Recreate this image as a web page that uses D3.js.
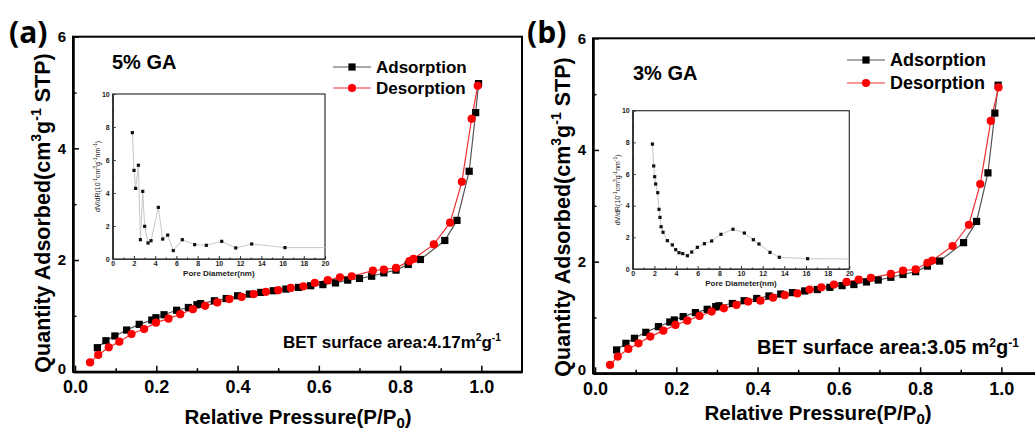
<!DOCTYPE html>
<html>
<head>
<meta charset="utf-8">
<script src="https://cdn.jsdelivr.net/npm/d3@7"></script>
<style>
  body { margin: 0; background: #fff; }
  svg { font-family: "Liberation Sans", Arial, sans-serif; font-weight: bold; }
</style>
</head>
<body>
<svg id="chart" width="1035" height="432"></svg>
<script>
// ---- panel (a) 5% GA ----
const adsA_x = [0.055,0.076,0.098,0.127,0.158,0.189,0.199,0.219,0.25,0.279,0.30,0.309,0.343,0.372,0.40,0.429,0.457,0.488,0.519,0.55,0.58,0.61,0.641,0.671,0.70,0.73,0.76,0.79,0.82,0.85,0.91,0.94,0.97,0.986,0.993];
const adsA_y = [0.43,0.555,0.64,0.746,0.848,0.925,0.967,1.02,1.10,1.15,1.20,1.22,1.27,1.31,1.36,1.39,1.42,1.45,1.48,1.51,1.54,1.56,1.59,1.64,1.67,1.71,1.77,1.82,1.92,2.01,2.35,2.71,3.59,4.64,5.16];
const desA_x = [0.037,0.057,0.083,0.109,0.139,0.17,0.199,0.23,0.259,0.29,0.32,0.35,0.38,0.41,0.44,0.47,0.50,0.531,0.562,0.59,0.622,0.652,0.681,0.733,0.76,0.79,0.823,0.833,0.883,0.923,0.952,0.976,0.991];
const desA_y = [0.167,0.30,0.436,0.537,0.675,0.764,0.878,0.95,1.03,1.12,1.18,1.24,1.30,1.34,1.39,1.43,1.46,1.50,1.53,1.59,1.64,1.69,1.71,1.81,1.83,1.86,1.98,2.02,2.28,2.67,3.40,4.53,5.12];
const poreA_d = [1.85,2.01,2.16,2.42,2.61,2.83,3.01,3.33,3.61,4.30,4.71,5.18,5.71,6.56,7.72,8.82,10.27,11.59,13.09,16.23];
const poreA_v = [7.66,5.37,4.28,5.68,1.17,4.10,1.98,0.97,1.11,3.13,1.21,1.45,0.51,1.17,0.87,0.83,1.07,0.67,0.91,0.69];
const poreA_tail = [20, 0.69];

// ---- panel (b) 3% GA ----
const adsB_x = [0.053,0.076,0.097,0.125,0.156,0.184,0.195,0.217,0.247,0.276,0.297,0.305,0.338,0.367,0.398,0.428,0.457,0.486,0.516,0.547,0.578,0.608,0.637,0.668,0.697,0.728,0.758,0.789,0.818,0.848,0.907,0.939,0.967,0.984,0.992];
const adsB_y = [0.418,0.537,0.627,0.734,0.836,0.919,0.955,1.015,1.087,1.146,1.194,1.21,1.25,1.30,1.34,1.385,1.42,1.445,1.475,1.50,1.54,1.57,1.59,1.636,1.67,1.72,1.77,1.82,1.92,2.01,2.34,2.72,3.59,4.66,5.16];
const desB_x = [0.037,0.056,0.082,0.107,0.136,0.168,0.198,0.227,0.257,0.287,0.317,0.348,0.377,0.407,0.438,0.467,0.498,0.528,0.557,0.588,0.619,0.649,0.679,0.728,0.758,0.789,0.818,0.830,0.88,0.92,0.948,0.974,0.993];
const desB_y = [0.15,0.30,0.436,0.537,0.657,0.764,0.866,0.943,1.027,1.105,1.164,1.224,1.284,1.30,1.355,1.40,1.43,1.50,1.54,1.59,1.636,1.68,1.71,1.78,1.84,1.86,1.98,2.02,2.28,2.66,3.39,4.52,5.12];
const poreB_d = [1.82,1.94,2.03,2.12,2.31,2.43,2.52,2.62,2.80,3.20,3.66,3.97,4.28,4.62,5.05,5.45,5.97,6.62,7.29,8.15,9.26,10.31,11.14,11.66,12.68,13.54,16.15];
const poreB_v = [7.89,6.51,5.83,5.37,4.82,3.77,3.26,2.67,2.32,1.79,1.52,1.22,1.03,0.97,0.84,1.07,1.37,1.60,1.77,2.19,2.51,2.27,1.85,1.58,1.05,0.74,0.65];
const poreB_tail = [20, 0.63];

const xMajor = [0, 0.2, 0.4, 0.6, 0.8, 1.0];
const xMinor = [0.1, 0.3, 0.5, 0.7, 0.9];
const yMajor = [0, 2, 4, 6];
const yMinor = [1, 3, 5];
const inXTicks = [0, 2, 4, 6, 8, 10, 12, 14, 16, 18, 20];
const inYTicks = [0, 2, 4, 6, 8, 10];

const svg = d3.select('#chart');

function zip(xs, ys) { return xs.map((x, i) => [x, ys[i]]); }

function drawPanel(p) {
    const g = svg.append('g');
    const x = d3.scaleLinear().domain([-0.005, 1.1]).range(p.xr);
    const y = d3.scaleLinear().domain([0, 6]).range(p.yr);
    const y0 = p.yr[0], y1 = p.yr[1], x0 = p.xr[0], x1 = p.xr[1];

    // frame
    g.append('rect')
        .attr('x', x0).attr('y', y1)
        .attr('width', x1 - x0).attr('height', y0 - y1)
        .attr('fill', 'none').attr('stroke', '#000').attr('stroke-width', 2);

    // axes, ticks pointing inward
    const xa = g.append('g').attr('transform', `translate(0,${y0})`)
        .call(d3.axisBottom(x).tickValues(xMajor).tickFormat(d3.format('.1f'))
            .tickSizeInner(-6).tickSizeOuter(0).tickPadding(9));
    xa.selectAll('text').attr('font-size', 18).attr('font-family', null).attr('fill', '#000');
    g.append('g').attr('transform', `translate(0,${y0})`)
        .call(d3.axisBottom(x).tickValues(xMinor).tickFormat('').tickSizeInner(-3.5).tickSizeOuter(0));

    const ya = g.append('g').attr('transform', `translate(${x0},0)`)
        .call(d3.axisLeft(y).tickValues(yMajor).tickFormat(d3.format('d'))
            .tickSizeInner(-6).tickSizeOuter(0).tickPadding(7));
    ya.selectAll('text').attr('font-size', 15).attr('font-family', null).attr('fill', '#000');
    ya.selectAll('.tick').filter(d => d === 0).select('text').attr('dy', '0.1em');
    g.append('g').attr('transform', `translate(${x0},0)`)
        .call(d3.axisLeft(y).tickValues(yMinor).tickFormat('').tickSizeInner(-3.5).tickSizeOuter(0));
    g.selectAll('.domain').attr('stroke-width', 2);
    g.selectAll('.tick line').attr('stroke-width', 1.5);

    // panel letter
    g.append('text').attr('x', p.letter[0]).attr('y', p.letter[1])
        .attr('font-size', 30).attr('font-family', '"Open Sans", sans-serif').attr('font-weight', 'bold')
        .text(p.name);

    // axis titles
    const xt = g.append('text').attr('x', p.xTitle[0]).attr('y', p.xTitle[1])
        .attr('text-anchor', 'middle').attr('font-size', 20.5);
    xt.append('tspan').text('Relative Pressure(P/P');
    xt.append('tspan').attr('font-size', 15).attr('dy', 4).text('0');
    xt.append('tspan').attr('dy', -4).text(')');

    const yt = g.append('text')
        .attr('transform', `translate(${p.yTitle[0]},${p.yTitle[1]}) rotate(-90)`)
        .attr('text-anchor', 'middle').attr('font-size', 21.5);
    yt.append('tspan').text('Quantity Adsorbed(cm');
    yt.append('tspan').attr('font-size', 14).attr('dy', -9).text('3');
    yt.append('tspan').attr('dy', 9).text('g');
    yt.append('tspan').attr('font-size', 14).attr('dy', -9).text('-1');
    yt.append('tspan').attr('dy', 9).text(' STP)');

    // sample label
    g.append('text').attr('x', p.sample[0]).attr('y', p.sample[1])
        .attr('font-size', 20).text(p.sampleText);

    // BET text
    const bt = g.append('text').attr('x', p.bet[0]).attr('y', p.bet[1])
        .attr('font-size', p.betSize);
    bt.append('tspan').text(p.betText);
    bt.append('tspan').attr('font-size', p.betSize * 0.6).attr('dy', -7).text('2');
    bt.append('tspan').attr('dy', 7).text('g');
    bt.append('tspan').attr('font-size', p.betSize * 0.6).attr('dy', -7).text('-1');

    // inset: pore size distribution
    const ix = d3.scaleLinear().domain([0, 20]).range(p.inX);
    const iy = d3.scaleLinear().domain([0, 10]).range(p.inY);
    const ig = g.append('g');
    ig.append('rect').attr('x', p.inX[0]).attr('y', p.inY[1])
        .attr('width', p.inX[1] - p.inX[0]).attr('height', p.inY[0] - p.inY[1])
        .attr('fill', '#fff').attr('stroke', '#333').attr('stroke-width', 1.2);
    ig.append('g').attr('transform', `translate(0,${p.inY[0]})`)
        .call(d3.axisBottom(ix).tickValues(inXTicks).tickSizeInner(-3).tickSizeOuter(0).tickPadding(2));
    ig.append('g').attr('transform', `translate(${p.inX[0]},0)`)
        .call(d3.axisLeft(iy).tickValues(inYTicks).tickSizeInner(-3).tickSizeOuter(0).tickPadding(3));
    ig.append('g').attr('transform', `translate(0,${p.inY[0]})`)
        .call(d3.axisBottom(ix).tickValues(d3.range(1, 20, 2)).tickFormat('').tickSizeInner(-1.5).tickSizeOuter(0));
    ig.append('g').attr('transform', `translate(${p.inX[0]},0)`)
        .call(d3.axisLeft(iy).tickValues(d3.range(1, 10, 2)).tickFormat('').tickSizeInner(-1.5).tickSizeOuter(0));
    ig.selectAll('text').attr('font-size', 7).attr('font-family', null).attr('fill', '#222');
    ig.selectAll('.domain').attr('stroke', '#333').attr('stroke-width', 1.2);
    ig.selectAll('.tick line').attr('stroke', '#333');

    ig.append('text').attr('x', (p.inX[0] + p.inX[1]) / 2).attr('y', p.inY[0] + 17)
        .attr('text-anchor', 'middle').attr('font-size', 8).attr('fill', '#222').text('Pore Diameter(nm)');
    const iyt = ig.append('text')
        .attr('transform', `translate(${p.inX[0] - 13},${(p.inY[0] + p.inY[1]) / 2}) rotate(-90)`)
        .attr('text-anchor', 'middle').attr('font-size', 7).attr('font-weight', 'normal').attr('fill', '#222');
    iyt.append('tspan').text('dV/dR(10');
    iyt.append('tspan').attr('font-size', 5).attr('dy', -3).text('-1');
    iyt.append('tspan').attr('dy', 3).text('cm');
    iyt.append('tspan').attr('font-size', 5).attr('dy', -3).text('3');
    iyt.append('tspan').attr('dy', 3).text('g');
    iyt.append('tspan').attr('font-size', 5).attr('dy', -3).text('-1');
    iyt.append('tspan').attr('dy', 3).text('nm');
    iyt.append('tspan').attr('font-size', 5).attr('dy', -3).text('-1');
    iyt.append('tspan').attr('dy', 3).text(')');

    const pore = zip(p.poreD, p.poreV);
    const il = d3.line().x(d => ix(d[0])).y(d => iy(d[1]));
    ig.append('path').datum(pore.concat([p.poreTail]))
        .attr('d', il).attr('fill', 'none').attr('stroke', '#c8c8c8').attr('stroke-width', 1);
    ig.selectAll('.pm').data(pore).enter().append('rect')
        .attr('x', d => ix(d[0]) - 1.6).attr('y', d => iy(d[1]) - 1.6)
        .attr('width', 3.2).attr('height', 3.2).attr('fill', '#111');

    // isotherms
    const line = d3.line().x(d => x(d[0])).y(d => y(d[1]));
    const ads = zip(p.adsX, p.adsY);
    const des = zip(p.desX, p.desY);
    g.append('path').datum(ads).attr('d', line)
        .attr('fill', 'none').attr('stroke', '#555').attr('stroke-width', 1.2);
    g.append('path').datum(des).attr('d', line)
        .attr('fill', 'none').attr('stroke', '#f03030').attr('stroke-width', 1.2);
    g.selectAll('.sq').data(ads).enter().append('rect')
        .attr('x', d => x(d[0]) - 3.6).attr('y', d => y(d[1]) - 3.6)
        .attr('width', 7.2).attr('height', 7.2).attr('fill', '#000');
    g.selectAll('.ci').data(des).enter().append('circle')
        .attr('cx', d => x(d[0])).attr('cy', d => y(d[1])).attr('r', 4.1).attr('fill', '#f00');

    // legend
    const lx = p.legend[0], ly = p.legend[1], gap = p.legend[2];
    g.append('line').attr('x1', lx).attr('x2', lx + 38).attr('y1', ly).attr('y2', ly)
        .attr('stroke', '#555').attr('stroke-width', 1.2);
    g.append('rect').attr('x', lx + 19 - 3.6).attr('y', ly - 3.6).attr('width', 7.2).attr('height', 7.2).attr('fill', '#000');
    g.append('line').attr('x1', lx).attr('x2', lx + 38).attr('y1', ly + gap).attr('y2', ly + gap)
        .attr('stroke', '#f03030').attr('stroke-width', 1.2);
    g.append('circle').attr('cx', lx + 19).attr('cy', ly + gap).attr('r', 4.1).attr('fill', '#f00');
    g.append('text').attr('x', lx + 43).attr('y', ly).attr('dy', '0.35em').attr('font-size', p.legendSize).text('Adsorption');
    g.append('text').attr('x', lx + 43).attr('y', ly + gap).attr('dy', '0.35em').attr('font-size', p.legendSize).text('Desorption');
}

drawPanel({
    name: '(a)', letter: [9, 43],
    xr: [73, 522], yr: [371.7, 36.7],
    xTitle: [298, 424], yTitle: [50, 213],
    sample: [112, 69], sampleText: '5% GA',
    bet: [283, 348], betSize: 17, betText: 'BET surface area:4.17m',
    inX: [112.7, 325], inY: [259, 94],
    poreD: poreA_d, poreV: poreA_v, poreTail: poreA_tail,
    adsX: adsA_x, adsY: adsA_y, desX: desA_x, desY: desA_y,
    legend: [333, 67, 21], legendSize: 17
});

drawPanel({
    name: '(b)', letter: [527, 43],
    xr: [593, 1042], yr: [373.3, 38.3],
    xTitle: [818, 420], yTitle: [570, 217],
    sample: [633, 80], sampleText: '3% GA',
    bet: [757, 354], betSize: 20, betText: 'BET surface area:3.05 m',
    inX: [632.7, 849.3], inY: [269, 110.7],
    poreD: poreB_d, poreV: poreB_v, poreTail: poreB_tail,
    adsX: adsB_x, adsY: adsB_y, desX: desB_x, desY: desB_y,
    legend: [847, 60, 23], legendSize: 18
});
</script>
</body>
</html>
